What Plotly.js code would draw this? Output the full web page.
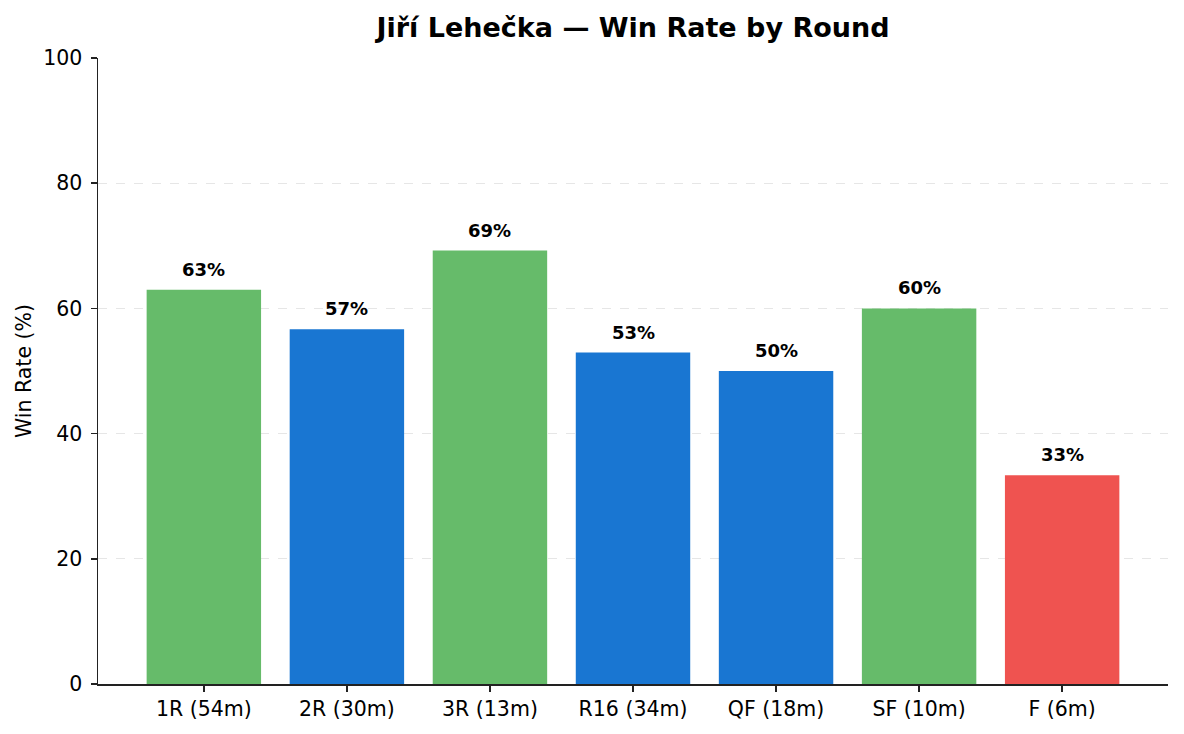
<!DOCTYPE html>
<html>
<head>
<meta charset="utf-8">
<script src="https://cdn.plot.ly/plotly-3.0.1.min.js"></script>
<style>html,body{margin:0;padding:0;background:#fff;}#chart{width:1184px;height:734px;}</style>
</head>
<body>
<div id="chart"></div>
<script>
const rounds = ["1R (54m)", "2R (30m)", "3R (13m)", "R16 (34m)", "QF (18m)", "SF (10m)", "F (6m)"];
const winRates = [62.96, 56.67, 69.23, 52.94, 50.0, 60.0, 33.33];
const barLabels = ["63%", "57%", "69%", "53%", "50%", "60%", "33%"];
const barColors = ["#66BB6A", "#1976D2", "#66BB6A", "#1976D2", "#1976D2", "#66BB6A", "#EF5350"];

const xs = rounds.map((_, i) => i);

const trace = {
  type: "bar",
  x: xs,
  y: winRates,
  width: 0.8,
  marker: {color: barColors},
  hoverinfo: "skip"
};

const annotations = xs.map((x, i) => ({
  x: x, y: winRates[i], xref: "x", yref: "y",
  text: "<b>" + barLabels[i] + "</b>",
  showarrow: false, yanchor: "bottom", xanchor: "center", yshift: 8,
  font: {family: "DejaVu Sans", size: 18, color: "#000"}
}));

const layout = {
  width: 1184, height: 734,
  margin: {l: 98, r: 16, t: 58, b: 50},
  paper_bgcolor: "#fff", plot_bgcolor: "#fff",
  font: {family: "DejaVu Sans", size: 20.5, color: "#000"},
  title: {text: "<b>Jiří Lehečka — Win Rate by Round</b>", x: 0.5, xanchor: "center", xref: "paper", y: 0.962, yanchor: "middle", font: {family: "DejaVu Sans", size: 27, color: "#000"}},
  xaxis: {
    range: [-0.74, 6.74],
    tickmode: "array", tickvals: xs, ticktext: rounds,
    showgrid: false, zeroline: false,
    showline: true, linecolor: "#222", linewidth: 1.5,
    ticks: "outside", ticklen: 6, tickcolor: "#222", tickwidth: 1.5,
    ticklabelstandoff: 0,
    tickfont: {size: 20.5}
  },
  yaxis: {
    range: [0, 100], tickvals: [0, 20, 40, 60, 80, 100],
    showgrid: true, gridcolor: "#e6e6e6", griddash: "dash", gridwidth: 1.2,
    zeroline: false,
    showline: true, linecolor: "#222", linewidth: 1.5,
    ticks: "outside", ticklen: 6, tickcolor: "#222", tickwidth: 1.5,
    ticklabelstandoff: 4,
    tickfont: {size: 20.5},
    title: {text: "Win Rate (%)", font: {size: 20.5}, standoff: 6}
  },
  annotations: annotations,
  showlegend: false,
  bargap: 0.2
};

Plotly.newPlot("chart", [trace], layout, {staticPlot: true, displayModeBar: false});
</script>
</body>
</html>
